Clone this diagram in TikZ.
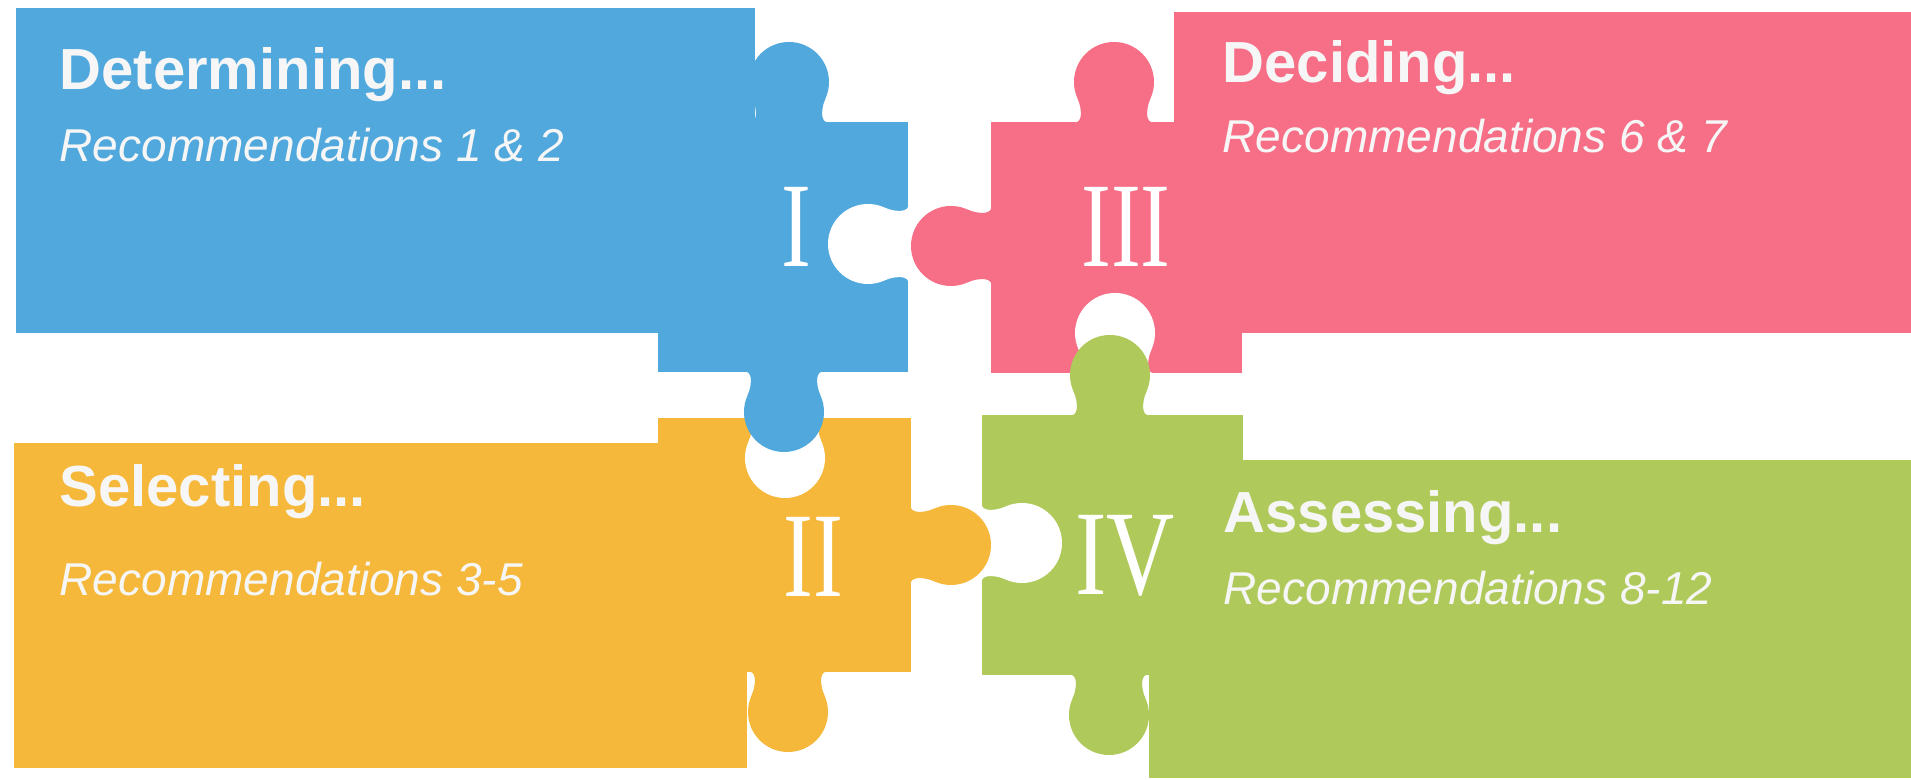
\documentclass[tikz,border=0pt]{standalone}
\usepackage{fontspec}
\setmainfont{Liberation Sans}
\newfontfamily\numeralfont{Liberation Serif}

\definecolor{blueP}{RGB}{80,168,220}
\definecolor{pinkP}{RGB}{247,110,135}
\definecolor{orangeP}{RGB}{245,184,58}
\definecolor{greenP}{RGB}{175,202,90}
\definecolor{paper}{RGB}{246,246,246}

\begin{document}
\begin{tikzpicture}[
    x=0.1mm, y=-0.1mm,
    title/.style={anchor=base west, inner sep=0, text=paper,
      font=\fontsize{16.5}{18}\selectfont\bfseries},
    rec/.style={anchor=base west, inner sep=0, text=paper,
      font=\fontsize{13.1}{15}\selectfont\itshape},
    numeral/.style={inner sep=0, text=white,
      font=\fontsize{34.4}{36}\selectfont\numeralfont},
    knob/.pic={
      \fill (0,40) circle[radius=40];
      \fill (-37,-2) -- (-37,0) .. controls (-31,2) and (-32.9,15.9) .. (-36.3,23.1)
        -- (36.3,23.1) .. controls (32.9,15.9) and (31,2) .. (37,0) -- (37,-2) -- cycle;
    }
  ]

  \path[fill=white, use as bounding box] (0,0) rectangle (1911,780);

  % bodies of the four pieces

  \fill[blueP]   (16,8)     rectangle (755,333);
  \fill[blueP]   (658,122)  rectangle (908,372);

  \fill[pinkP]   (1174,12)  rectangle (1911,333);
  \fill[pinkP]   (991,122)  rectangle (1242,373);

  \fill[orangeP] (14,443)   rectangle (747,768);
  \fill[orangeP] (658,418)  rectangle (911,672);

  \fill[greenP]  (1149,460) rectangle (1911,778);
  \fill[greenP]  (982,415)  rectangle (1243,675);

  % holes cut into the squares
  \pic[fill=white, rotate=-90] at (908,244)  {knob};
  \pic[fill=white, rotate=180] at (1115,373) {knob};
  \pic[fill=white]             at (785,418)  {knob};
  \pic[fill=white, rotate=90]  at (982,543)  {knob};

  % knobs on top
  \pic[fill=blueP, rotate=180]  at (789,122)  {knob};
  \pic[fill=blueP]              at (784,372)  {knob};
  \pic[fill=pinkP, rotate=180]  at (1114,122) {knob};
  \pic[fill=pinkP, rotate=-90]  at (991,246)  {knob};
  \pic[fill=orangeP, rotate=90] at (911,545)  {knob};
  \pic[fill=orangeP]            at (788,672)  {knob};
  \pic[fill=greenP, rotate=180] at (1110,415) {knob};
  \pic[fill=greenP]             at (1109,675) {knob};

  % numerals
  \node (numI)   [numeral] at (796,227)  {\scalebox{0.74}[1]{I}};
  \node (numIII) [numeral] at (1126,227) {\scalebox{0.74}[1]{III}};
  \node (numII)  [numeral] at (813,557)  {\scalebox{0.74}[1]{II}};
  \node (numIV)  [numeral] at (1125,556) {\scalebox{0.78}[1]{IV}};

  % texts
  \node (determining)    [title] at (59,90)    {Determining...};
  \node (determiningrec) [rec]   at (59,162)   {Recommendations 1 \& 2};
  \node (deciding)       [title] at (1222,83)  {Deciding...};
  \node (decidingrec)    [rec]   at (1222,153) {Recommendations 6 \& 7};
  \node (selecting)      [title] at (59,507)   {Selecting...};
  \node (selectingrec)   [rec]   at (59,596)   {Recommendations 3-5};
  \node (assessing)      [title] at (1223,533) {Assessing...};
  \node (assessingrec)   [rec]   at (1223,605) {Recommendations 8-12};

\end{tikzpicture}
\end{document}
